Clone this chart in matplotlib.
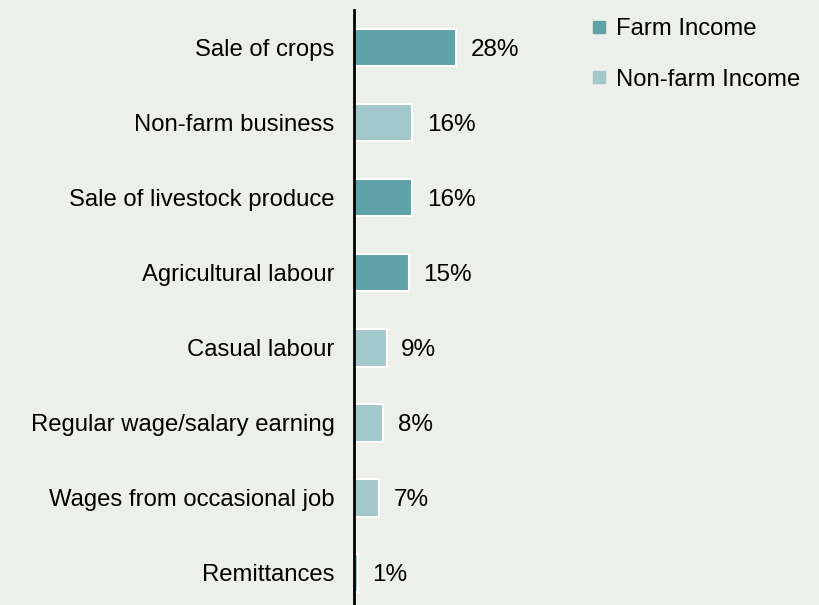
import matplotlib.pyplot as plt
from matplotlib.lines import Line2D

# données
categories = ["Sale of crops", "Non-farm business", "Sale of livestock produce",
              "Agricultural labour", "Casual labour", "Regular wage/salary earning",
              "Wages from occasional job", "Remittances"]
valeurs = [28, 16, 16, 15, 9, 8, 7, 1]
types = ["farm", "non", "farm", "farm", "non", "non", "non", "non"]

fond = "#ECEFEA"
c_farm = "#5FA3A8"
c_non = "#A2C8CB"
couleurs = {"farm": c_farm, "non": c_non}

plt.rcParams["font.family"] = ["Liberation Sans", "DejaVu Sans"]

fig = plt.figure(figsize=(8.19, 6.05), dpi=100, facecolor=fond)
ax = fig.add_axes([354 / 819, 0, 364 / 819, 595 / 605])
ax.set_facecolor(fond)

y = list(range(len(categories)))
ax.barh(y, valeurs, height=0.5, color=[couleurs[t] for t in types],
        edgecolor="white", linewidth=1.5)

for yi, v in zip(y, valeurs):
    ax.text(v + 4, yi, f"{v}%", va="center_baseline", ha="left", fontsize=17.5)

ax.set_xlim(0, 100)
ax.set_ylim(7 + 32 / 75, -0.5)
ax.set_yticks(y)
ax.set_yticklabels(categories, fontsize=17.2)
ax.tick_params(axis="y", length=0, pad=14)
ax.set_xticks([])
for s in ["top", "right", "bottom"]:
    ax.spines[s].set_visible(False)
ax.spines["left"].set_linewidth(2)
ax.spines["left"].set_color("black")

poignees = [Line2D([], [], marker="s", linestyle="none", markersize=9,
                   markerfacecolor=c_farm, markeredgecolor=c_farm),
            Line2D([], [], marker="s", linestyle="none", markersize=9,
                   markerfacecolor=c_non, markeredgecolor=c_non)]
fig.legend(poignees, ["Farm Income", "Non-farm Income"], loc="upper left",
           bbox_to_anchor=(566 / 819, 1.006), frameon=False, fontsize=17.2,
           labelspacing=1.2, handletextpad=0.2, handlelength=1.0)

plt.savefig("out.png", dpi=100, facecolor=fond)
